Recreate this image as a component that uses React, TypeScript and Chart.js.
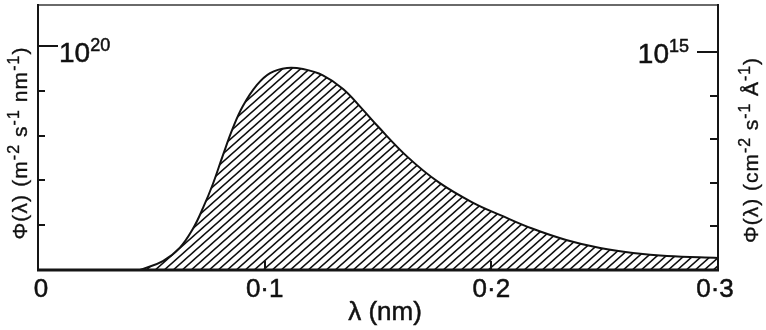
import React, { useEffect, useRef } from "react";
import { Chart, registerables } from "chart.js";

Chart.register(...registerables);

// wavelength λ (nm)
const wavelength = [0.045, 0.0551, 0.0626, 0.0684, 0.0728, 0.0772, 0.0816, 0.086, 0.0904, 0.0966, 0.1024, 0.1099, 0.1169, 0.1257, 0.1346, 0.1434, 0.1496, 0.163, 0.177, 0.192, 0.204, 0.218, 0.233, 0.248, 0.2625, 0.2775, 0.3];
// photon flux Φ(λ) in units of 1e20 m^-2 s^-1 nm^-1
const flux = [0, 0.04, 0.1, 0.185, 0.277, 0.385, 0.513, 0.634, 0.732, 0.826, 0.879, 0.902, 0.897, 0.869, 0.808, 0.715, 0.645, 0.505, 0.39, 0.3, 0.245, 0.185, 0.134, 0.098, 0.076, 0.0625, 0.054];

const xTickValues = [0, 0.1, 0.2, 0.3];
const xTickLabels = ["0", "0·1", "0·2", "0·3"];
const leftTickValues = [0.2, 0.4, 0.6, 0.8, 1.0];
const rightTickValues = [0.2, 0.4, 0.6, 0.8, 1.0];
const leftMajorLabel = { base: "10", exp: "20" };
const rightMajorLabel = { base: "10", exp: "15" };
const xTitle = "λ (nm)";
const leftTitle = [{ t: "Φ(λ) (m" }, { t: "-2", sup: true }, { t: " s" }, { t: "-1", sup: true }, { t: " nm" }, { t: "-1", sup: true }, { t: ")" }];
const rightTitle = [{ t: "Φ(λ) (cm" }, { t: "-2", sup: true }, { t: " s" }, { t: "-1", sup: true }, { t: " Å" }, { t: "-1", sup: true }, { t: ")" }];

const FONT = '"Liberation Sans", Arial, Helvetica, sans-serif';
const f = (s: number) => `${s}px ${FONT}`;

type Seg = { t: string; sup?: boolean };

function boldText(ctx: CanvasRenderingContext2D, t: string, x: number, y: number) {
  ctx.fillText(t, x, y);
  ctx.strokeText(t, x, y);
}

function drawRich(ctx: CanvasRenderingContext2D, segs: Seg[], size: number, cx: number, cy: number, rot: number, target: number) {
  ctx.save();
  ctx.translate(cx, cy);
  ctx.rotate(rot);
  const supSize = size * 0.75;
  const ws: number[] = [];
  let nat = 0;
  let chars = 0;
  for (const s of segs) {
    ctx.font = f(s.sup ? supSize : size);
    (ctx as any).letterSpacing = "0px";
    const w = ctx.measureText(s.t).width;
    ws.push(w);
    nat += w;
    chars += s.t.length;
  }
  const ls = Math.max(0, (target - nat) / chars);
  const total = nat + ls * chars;
  let x = -total / 2;
  ctx.textBaseline = "alphabetic";
  ctx.textAlign = "left";
  segs.forEach((s, i) => {
    ctx.font = f(s.sup ? supSize : size);
    (ctx as any).letterSpacing = `${ls}px`;
    boldText(ctx, s.t, x, s.sup ? -size * 0.02 : size * 0.36);
    x += ws[i] + ls * s.t.length;
  });
  (ctx as any).letterSpacing = "0px";
  ctx.restore();
}

function makePattern(): CanvasPattern | string {
  const c = document.createElement("canvas");
  c.width = 9;
  c.height = 8;
  const g = c.getContext("2d");
  if (!g) return "#888";
  g.strokeStyle = "#0d0d0d";
  g.lineWidth = 1.6;
  for (const k of [-1, 0, 1]) {
    g.beginPath();
    g.moveTo(-9, 16 + 8 * k);
    g.lineTo(18, -8 + 8 * k);
    g.stroke();
  }
  const p = g.createPattern(c, "repeat");
  return p || "#888";
}

const framePlugin = {
  id: "framePlugin",
  afterDatasetsDraw(chart: any) {
    const ctx: CanvasRenderingContext2D = chart.ctx;
    const { left, right, top, bottom } = chart.chartArea;
    const xs = chart.scales.x;
    const yl = chart.scales.y;
    const yr = chart.scales.y2;
    ctx.save();
    ctx.lineCap = "butt";
    // top border (lighter)
    ctx.strokeStyle = "#6a6a6a";
    ctx.lineWidth = 2;
    ctx.beginPath();
    ctx.moveTo(left, top);
    ctx.lineTo(right, top);
    ctx.stroke();
    // left / right borders
    ctx.strokeStyle = "#151515";
    ctx.lineWidth = 2;
    ctx.beginPath();
    ctx.moveTo(left, top - 1);
    ctx.lineTo(left, bottom);
    ctx.moveTo(right, top - 1);
    ctx.lineTo(right, bottom);
    ctx.stroke();
    // bottom border
    ctx.lineWidth = 3;
    ctx.beginPath();
    ctx.moveTo(left - 1, bottom);
    ctx.lineTo(right + 1, bottom);
    ctx.stroke();
    // ticks
    ctx.lineWidth = 2;
    ctx.beginPath();
    leftTickValues.forEach((v) => {
      const y = Math.round(yl.getPixelForValue(v));
      const len = v === 1 ? 20 : 7;
      ctx.moveTo(left, y);
      ctx.lineTo(left + len, y);
    });
    rightTickValues.forEach((v) => {
      const y = Math.round(yr.getPixelForValue(v));
      const len = v === 1 ? 21 : 8;
      ctx.moveTo(right, y);
      ctx.lineTo(right - len, y);
    });
    xTickValues.slice(1, -1).forEach((v) => {
      const x = Math.round(xs.getPixelForValue(v));
      ctx.moveTo(x, bottom);
      ctx.lineTo(x, bottom - 9);
    });
    ctx.stroke();

    ctx.fillStyle = "#111";
    ctx.strokeStyle = "#111";
    ctx.lineWidth = 0.5;
    // x tick labels
    ctx.font = f(26);
    ctx.textAlign = "center";
    ctx.textBaseline = "alphabetic";
    xTickValues.forEach((v, i) => {
      let x = xs.getPixelForValue(v);
      if (i === 0) x += 3;
      if (i === xTickValues.length - 1) x -= 3;
      boldText(ctx, xTickLabels[i], x, 297);
    });
    // x title
    ctx.font = f(26);
    boldText(ctx, xTitle, 385, 320);

    // major labels
    ctx.textAlign = "left";
    const yL = yl.getPixelForValue(1);
    ctx.font = f(28);
    boldText(ctx, leftMajorLabel.base, left + 21, yL + 16);
    let wb = ctx.measureText(leftMajorLabel.base).width;
    ctx.font = f(18);
    boldText(ctx, leftMajorLabel.exp, left + 21 + wb, yL + 5);

    const yR = yr.getPixelForValue(1);
    ctx.font = f(18);
    const we = ctx.measureText(rightMajorLabel.exp).width;
    ctx.font = f(28);
    wb = ctx.measureText(rightMajorLabel.base).width;
    const endX = right - 29;
    boldText(ctx, rightMajorLabel.base, endX - we - wb, yR + 11);
    ctx.font = f(18);
    boldText(ctx, rightMajorLabel.exp, endX - we, yR);

    // axis titles (rotated)
    ctx.lineWidth = 0.35;
    drawRich(ctx, leftTitle, 21, 19, 143, -Math.PI / 2, 193);
    drawRich(ctx, rightTitle, 21, 750, 150, -Math.PI / 2, 186);
    ctx.restore();
  },
};

export default function App() {
  const ref = useRef<HTMLCanvasElement | null>(null);
  useEffect(() => {
    if (!ref.current) return;
    const pattern = makePattern();
    const chart = new Chart(ref.current, {
      type: "line",
      data: {
        datasets: [
          {
            data: wavelength.map((x, i) => ({ x, y: flux[i] })),
            borderColor: "#111",
            borderWidth: 2,
            backgroundColor: pattern as any,
            fill: "origin",
            pointRadius: 0,
            tension: 0.4,
          },
        ],
      },
      options: {
        responsive: false,
        animation: false,
        devicePixelRatio: 1,
        layout: { padding: { left: 38, right: 48, top: 5, bottom: 60 } },
        plugins: { legend: { display: false }, tooltip: { enabled: false } },
        scales: {
          x: { type: "linear", min: 0, max: 0.3, display: false },
          y: { type: "linear", min: 0, max: 1.183, display: false },
          y2: { type: "linear", min: 0, max: 1.216, display: false, position: "right" },
        },
      },
      plugins: [framePlugin],
    });
    return () => chart.destroy();
  }, []);
  return (
    <div style={{ position: "absolute", left: 0, top: 0, width: 766, height: 330, background: "#fff" }}>
      <canvas ref={ref} width={766} height={330} style={{ width: 766, height: 330, display: "block" }} />
    </div>
  );
}
